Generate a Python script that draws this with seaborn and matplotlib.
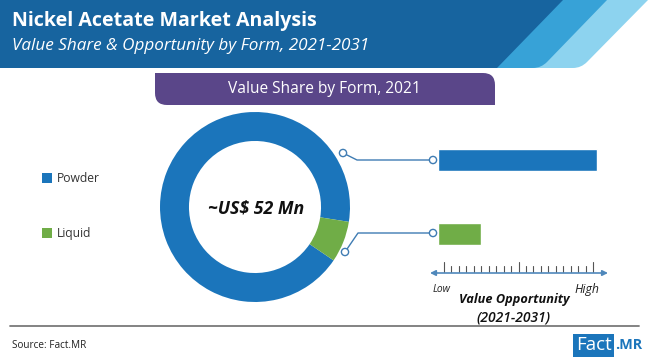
import matplotlib
matplotlib.use("Agg")
import matplotlib.pyplot as plt
import seaborn as sns
import pandas as pd
from matplotlib.path import Path
from matplotlib.patches import PathPatch, Rectangle, Circle

# ---------------- data ----------------
forms = ["Powder", "Liquid"]
value_share_2021 = [93, 7]          # % share of ~US$ 52 Mn
opportunity_index = [9.35, 2.55]    # value opportunity 2021-2031 (Low=0 .. High=10)
form_colors = ["#1b75bb", "#70ad47"]
title = "Nickel Acetate Market Analysis"
subtitle = "Value Share & Opportunity by Form, 2021-2031"
banner = "Value Share by Form, 2021"
center_label = "~US$ 52 Mn"
source = "Source: Fact.MR"

sns.set_theme(style="white")
plt.rcParams["font.family"] = ["Open Sans", "DejaVu Sans"]

W, H = 650, 363
fig = plt.figure(figsize=(W / 100, H / 100), dpi=100)
fig.patch.set_facecolor("white")

# overlay axes in pixel coordinates
ov = fig.add_axes([0, 0, 1, 1])
ov.set_xlim(0, W)
ov.set_ylim(H, 0)
ov.axis("off")

renderer = fig.canvas.get_renderer()


def fit(x, y, s, target_w, ha="left", va="center", **kw):
    t = ov.text(x, y, s, fontsize=10, ha=ha, va=va, **kw)
    w = t.get_window_extent(renderer).width
    t.set_fontsize(10 * target_w / w)
    return t


def poly(pts, codes, color, z=1):
    ov.add_patch(PathPatch(Path(pts, codes), facecolor=color, edgecolor="none", zorder=z))


M, L, C3, CL = Path.MOVETO, Path.LINETO, Path.CURVE3, Path.CLOSEPOLY

# header band with diagonal stripes
poly([(0, 0), (648, 0), (587, 62), (581, 68), (573, 68), (0, 68), (0, 0)],
     [M, L, L, C3, C3, L, CL], "#8dd3ef", 1)
poly([(0, 0), (607, 0), (547, 62), (541, 68), (533, 68), (0, 68), (0, 0)],
     [M, L, L, C3, C3, L, CL], "#37a2d7", 2)
poly([(0, 0), (563, 0), (497, 68), (0, 68), (0, 0)],
     [M, L, L, L, CL], "#17649f", 3)

fit(12, 21, title, 305, color="white", fontweight="bold", zorder=5)
fit(12, 46, subtitle, 357, color="white", fontstyle="italic", zorder=5)

# purple banner with rounded top-right / bottom-left corners
r = 12
poly([(155, 73), (495 - r, 73), (495, 73), (495, 73 + r), (495, 105), (155 + r, 105),
      (155, 105), (155, 105 - r), (155, 73)],
     [M, L, C3, C3, L, L, C3, C3, CL], "#5a4689", 2)
fit(324, 89, banner, 193, ha="center", color="white", zorder=5)

# legend
leg_y = [178, 233]
for f, c, y in zip(forms, form_colors, leg_y):
    ov.add_patch(Rectangle((42, y - 5), 10, 10, facecolor=c, edgecolor="none"))
t0 = fit(57, leg_y[0], forms[0], 43, color="#333333")
ov.text(57, leg_y[1], forms[1], fontsize=t0.get_fontsize(), ha="left", va="center", color="#333333")

# ---------------- donut ----------------
cx, cy, R = 255, 207, 95
axp = fig.add_axes([(cx - R) / W, (H - cy - R) / H, 2 * R / W, 2 * R / H])
axp.pie(value_share_2021, colors=form_colors, startangle=-9, counterclock=True,
        radius=1, wedgeprops=dict(width=0.305, edgecolor="none"))
axp.set_xlim(-1, 1)
axp.set_ylim(-1, 1)
axp.axis("off")
axp.patch.set_alpha(0)

# center label
fit(cx + 1, cy + 1, center_label, 96, ha="center", fontweight="bold", fontstyle="italic",
    color="#111111", zorder=10)

# connectors
lc = "#3f7cb3"
for (p0, p1, p2) in [((343, 153), (357, 160), (433, 160)),
                     ((345, 252), (358, 233), (433, 233))]:
    ov.plot([p0[0], p1[0], p2[0]], [p0[1], p1[1], p2[1]], color=lc, lw=1, zorder=4)
    for p in (p0, p2):
        ov.add_patch(Circle(p, 3.6, facecolor="white", edgecolor=lc, lw=1, zorder=5))

# ---------------- opportunity bars ----------------
bx0, bx1 = 438, 608
by0, by1 = 123, 271
axb = fig.add_axes([bx0 / W, (H - by1) / H, (bx1 - bx0) / W, (by1 - by0) / H])
df = pd.DataFrame({"form": forms, "opportunity": opportunity_index})
sns.barplot(data=df, x="opportunity", y="form", hue="form", palette=form_colors,
            orient="h", width=0.31, legend=False, ax=axb, saturation=1)
axb.set_xlim(0, 10)
axb.set_ylim(1.5, -0.5)
axb.axis("off")
axb.patch.set_alpha(0)

# value opportunity scale
ay = 273
ov.annotate("", xy=(430, ay), xytext=(608, ay),
            arrowprops=dict(arrowstyle="<|-|>", color="#4f88bb", lw=1.2,
                            mutation_scale=8, shrinkA=0, shrinkB=0))
n = 21
for i in range(n):
    x = 444 + i * (593 - 444) / (n - 1)
    h = 10 if i in (0, 10, 20) else 6
    ov.plot([x, x], [ay - 1, ay - 1 - h], color="#555555", lw=0.8)

fit(442, 289, "Low", 18, ha="center", fontstyle="italic", color="#222222")
fit(587, 289, "High", 25, ha="center", fontstyle="italic", color="#222222")
fit(514, 300, "Value Opportunity", 110, ha="center", fontweight="bold",
    fontstyle="italic", color="#111111")
fit(514, 317, "(2021-2031)", 74, ha="center", fontweight="semibold",
    fontstyle="italic", color="#111111")

# footer
ov.plot([10, 639], [326, 326], color="#7a7a7a", lw=1.3)
fit(12, 346, source, 74, color="#222222")
ov.add_patch(Rectangle((573, 334), 41, 23, facecolor="#1b75bb", edgecolor="none"))
fit(593.5, 345, "Fact", 36, ha="center", color="white")
fit(615, 345, ".MR", 27, ha="left", color="#1b75bb", fontweight="bold")

fig.savefig("out.png", dpi=100, facecolor="white")
